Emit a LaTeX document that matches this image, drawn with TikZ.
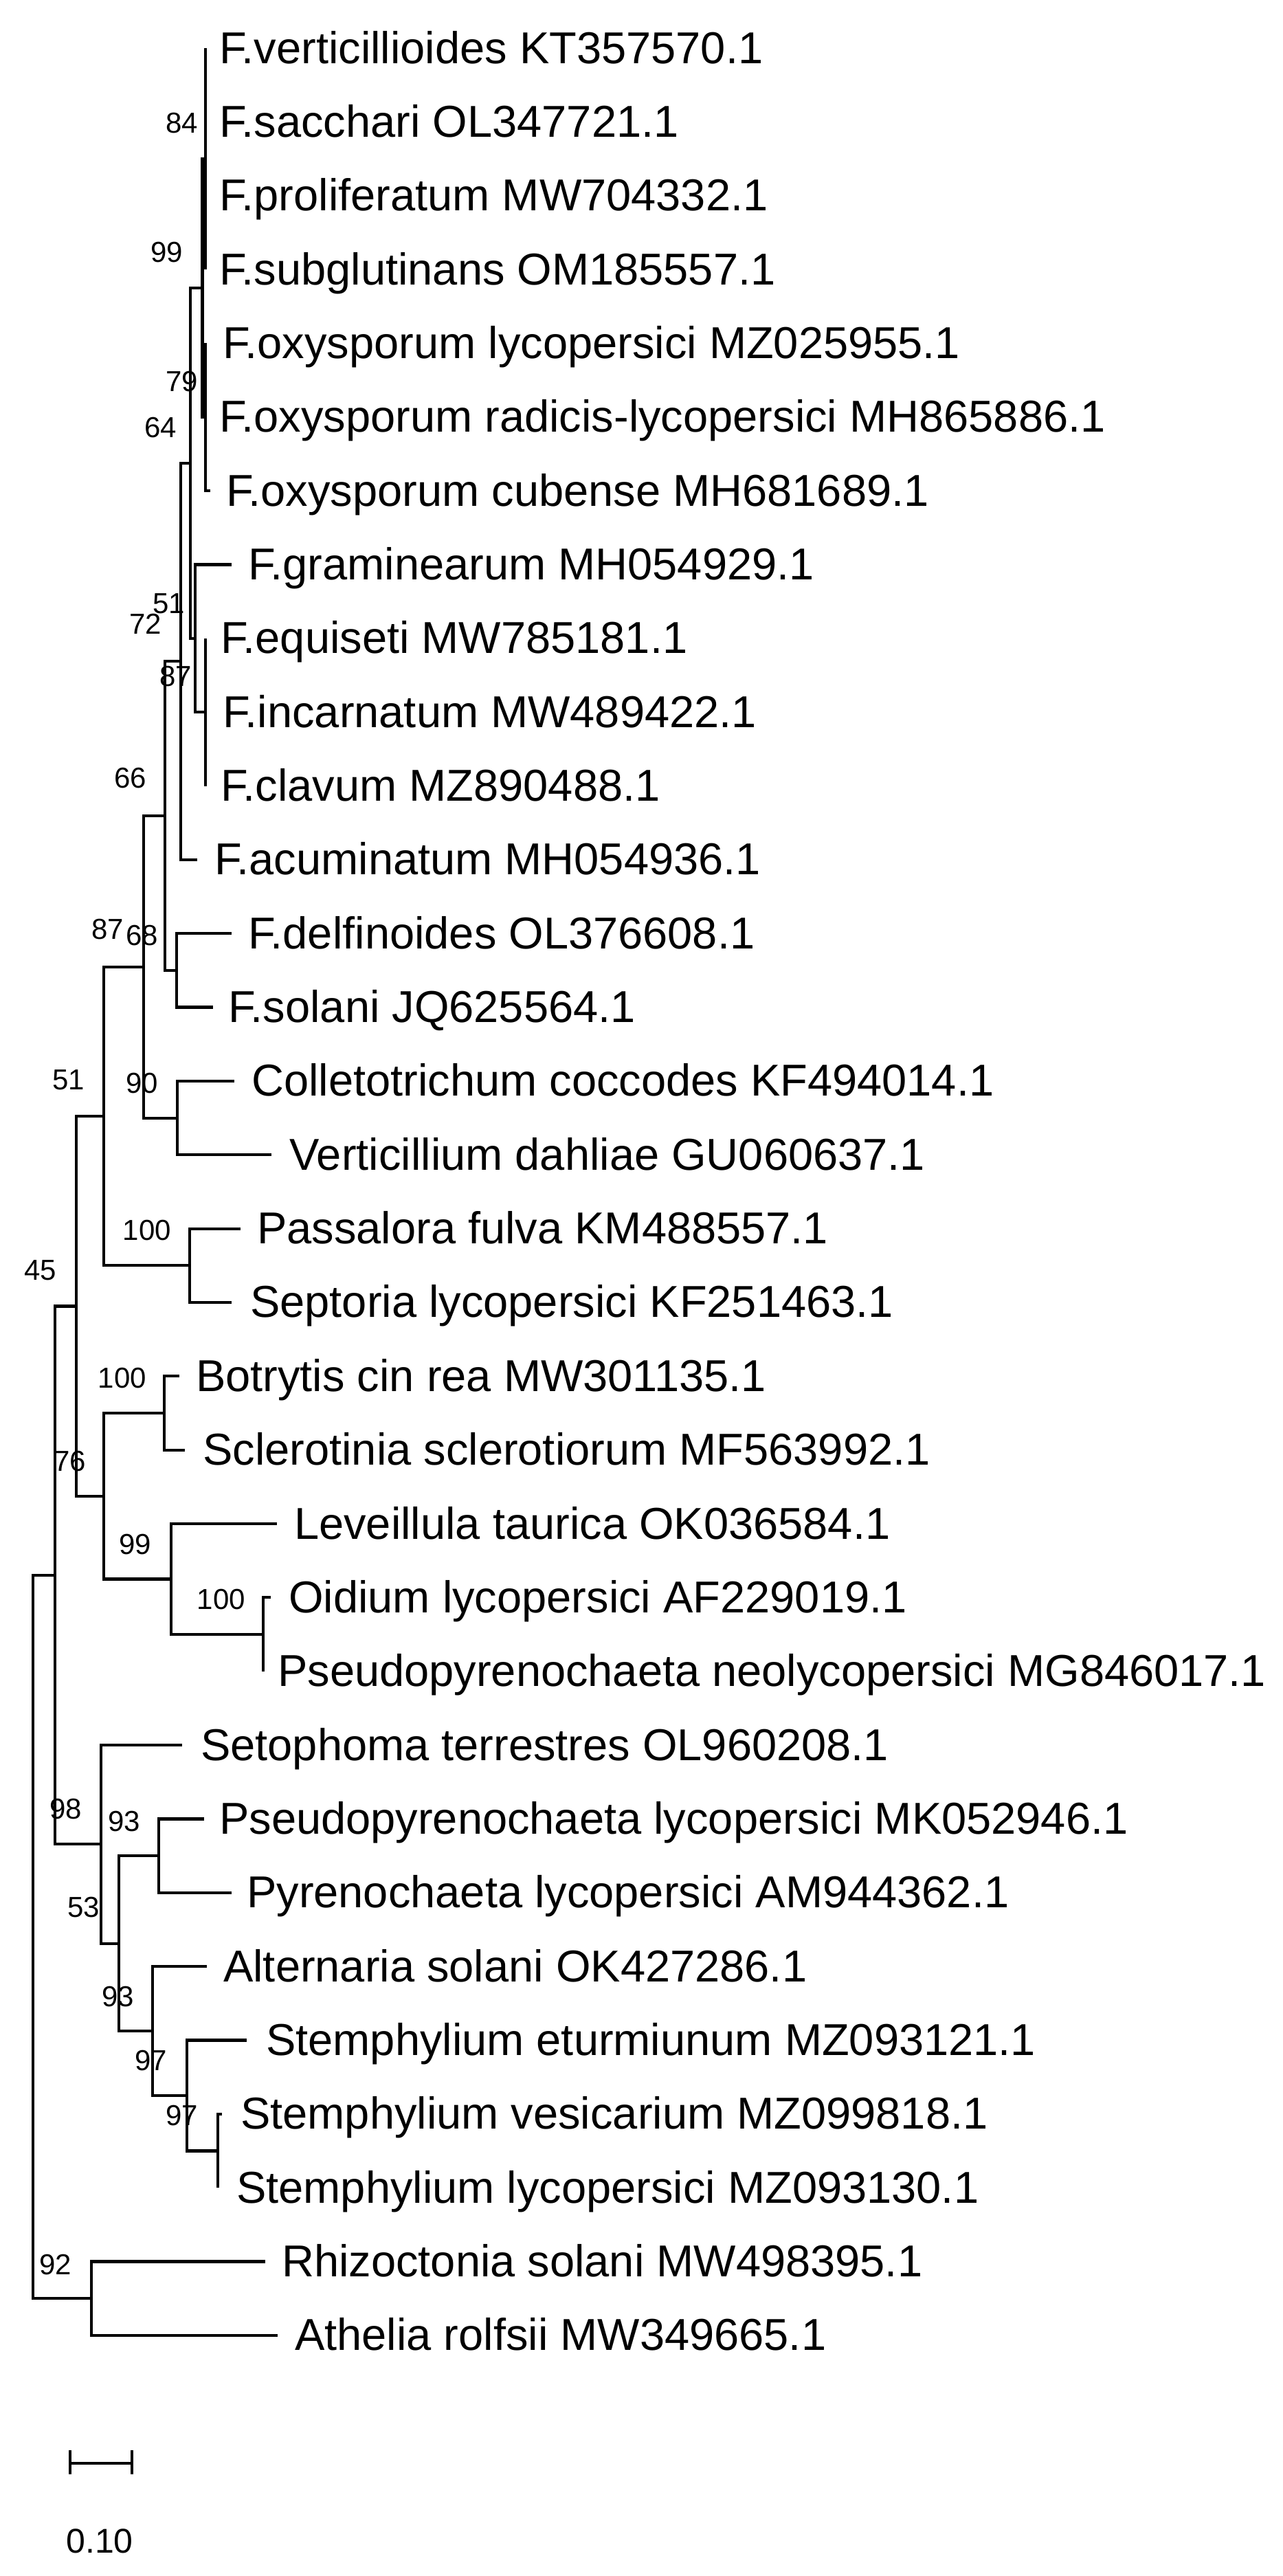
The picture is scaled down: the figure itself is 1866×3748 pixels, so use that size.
\documentclass[tikz,border=0pt]{standalone}
\usepackage{fontspec}
\setmainfont{Liberation Sans}
\usetikzlibrary{calc}
\tikzset{
  br/.style={line width=4.2pt, line join=miter, line cap=butt},
  leaf/.style={anchor=base west, inner sep=0pt, font=\fontsize{65}{78}\selectfont},
  bs/.style={anchor=center, inner sep=0pt, font=\fontsize{42}{50}\selectfont},
  sclab/.style={anchor=center, inner sep=0pt, font=\fontsize{50}{60}\selectfont}
}
\begin{document}
\begin{tikzpicture}[x=1pt,y=-1pt]
\useasboundingbox (0,0) rectangle (1866,3748);
\fill[white] (0,0) rectangle (1866,3748);

% leaf tips
\coordinate (L1) at (299,70.00);
\coordinate (L2) at (299,177.35);
\coordinate (L3) at (299,284.70);
\coordinate (L4) at (299,392.05);
\coordinate (L5) at (299,499.40);
\coordinate (L6) at (299,606.75);
\coordinate (L7) at (306,714.10);
\coordinate (L8) at (337,821.45);
\coordinate (L9) at (299,928.80);
\coordinate (L10) at (299,1036.15);
\coordinate (L11) at (299,1143.50);
\coordinate (L12) at (287,1250.85);
\coordinate (L13) at (337,1358.20);
\coordinate (L14) at (310,1465.55);
\coordinate (L15) at (341,1572.90);
\coordinate (L16) at (395,1680.25);
\coordinate (L17) at (350,1787.60);
\coordinate (L18) at (337,1894.95);
\coordinate (L19) at (261,2002.30);
\coordinate (L20) at (269,2109.65);
\coordinate (L21) at (403,2217.00);
\coordinate (L22) at (394,2324.35);
\coordinate (L23) at (383,2431.70);
\coordinate (L24) at (265,2539.05);
\coordinate (L25) at (297,2646.40);
\coordinate (L26) at (337,2753.75);
\coordinate (L27) at (301,2861.10);
\coordinate (L28) at (359,2968.45);
\coordinate (L29) at (323,3075.80);
\coordinate (L30) at (317,3183.15);
\coordinate (L31) at (386,3290.50);
\coordinate (L32) at (404,3397.85);

% internal nodes
\coordinate (root) at (48,2818.05);
\coordinate (FF) at (80,2291.9);
\coordinate (AA) at (111,1900.4);
\coordinate (Y) at (151,1624.1);
\coordinate (V) at (209,1406.85);
\coordinate (U) at (240,1187.1);
\coordinate (T) at (263,962.35);
\coordinate (S) at (277,673.85);
\coordinate (P) at (294.5,418.9);
\coordinate (Q) at (299,231.0);
\coordinate (R) at (299,606.75);
\coordinate (G) at (284,928.8);
\coordinate (H) at (299,1036.15);
\coordinate (X) at (257,1411.9);
\coordinate (W) at (258,1626.6);
\coordinate (Z) at (276,1841.3);
\coordinate (CC) at (151,2176.75);
\coordinate (BB) at (239,2056.0);
\coordinate (DD) at (249,2297.5);
\coordinate (EE) at (383,2378.0);
\coordinate (GG) at (147,2683.3);
\coordinate (HH) at (173,2827.6);
\coordinate (II) at (231,2700.1);
\coordinate (JJ) at (222,2955.0);
\coordinate (KK) at (272,3049.0);
\coordinate (LL) at (317,3129.5);
\coordinate (MM) at (133,3344.2);

% branches
\draw[br] (root) |- (FF);  \draw[br] (root) |- (MM);
\draw[br] (FF) |- (AA);    \draw[br] (FF) |- (GG);
\draw[br] (AA) |- (Y);     \draw[br] (AA) |- (CC);
\draw[br] (Y) |- (V);      \draw[br] (Y) |- (Z);
\draw[br] (V) |- (U);      \draw[br] (V) |- (W);
\draw[br] (U) |- (T);      \draw[br] (U) |- (X);
\draw[br] (T) |- (S);      \draw[br] (T) |- (L12);
\draw[br] (S) |- (P);      \draw[br] (S) |- (G);
\draw[br] (P) |- (Q);      \draw[br] (P) |- (R);
\draw[br] (Q) |- (L1);     \draw[br] (Q) |- (L2);
\draw[br] (Q) |- (L3);     \draw[br] (Q) |- (L4);
\draw[br] (R) |- (L5);     \draw[br] (R) |- (L6);     \draw[br] (R) |- (L7);
\draw[br] (G) |- (L8);     \draw[br] (G) |- (H);
\draw[br] (H) |- (L9);     \draw[br] (H) |- (L10);    \draw[br] (H) |- (L11);
\draw[br] (X) |- (L13);    \draw[br] (X) |- (L14);
\draw[br] (W) |- (L15);    \draw[br] (W) |- (L16);
\draw[br] (Z) |- (L17);    \draw[br] (Z) |- (L18);
\draw[br] (CC) |- (BB);    \draw[br] (CC) |- (DD);
\draw[br] (BB) |- (L19);   \draw[br] (BB) |- (L20);
\draw[br] (DD) |- (L21);   \draw[br] (DD) |- (EE);
\draw[br] (EE) |- (L22);   \draw[br] (EE) |- (L23);
\draw[br] (GG) |- (L24);   \draw[br] (GG) |- (HH);
\draw[br] (HH) |- (II);    \draw[br] (HH) |- (JJ);
\draw[br] (II) |- (L25);   \draw[br] (II) |- (L26);
\draw[br] (JJ) |- (L27);   \draw[br] (JJ) |- (KK);
\draw[br] (KK) |- (L28);   \draw[br] (KK) |- (LL);
\draw[br] (LL) |- (L29);   \draw[br] (LL) |- (L30);
\draw[br] (MM) |- (L31);   \draw[br] (MM) |- (L32);

% leaf labels
\node[leaf] (t1) at (319,92.0) {F.verticillioides KT357570.1};
\node[leaf] (t2) at (319,199.35) {F.sacchari OL347721.1};
\node[leaf] (t3) at (319,306.7) {F.proliferatum MW704332.1};
\node[leaf] (t4) at (319,414.05) {F.subglutinans OM185557.1};
\node[leaf] (t5) at (324,521.4) {F.oxysporum lycopersici MZ025955.1};
\node[leaf] (t6) at (319,628.75) {F.oxysporum radicis-lycopersici MH865886.1};
\node[leaf] (t7) at (329,736.1) {F.oxysporum cubense MH681689.1};
\node[leaf] (t8) at (361,843.45) {F.graminearum MH054929.1};
\node[leaf] (t9) at (321,950.8) {F.equiseti MW785181.1};
\node[leaf] (t10) at (324,1058.15) {F.incarnatum MW489422.1};
\node[leaf] (t11) at (321,1165.5) {F.clavum MZ890488.1};
\node[leaf] (t12) at (312,1272.85) {F.acuminatum MH054936.1};
\node[leaf] (t13) at (361,1380.2) {F.delfinoides OL376608.1};
\node[leaf] (t14) at (332,1487.55) {F.solani JQ625564.1};
\node[leaf] (t15) at (366,1594.9) {Colletotrichum coccodes KF494014.1};
\node[leaf] (t16) at (421,1702.25) {Verticillium dahliae GU060637.1};
\node[leaf] (t17) at (374,1809.6) {Passalora fulva KM488557.1};
\node[leaf] (t18) at (364,1916.95) {Septoria lycopersici KF251463.1};
\node[leaf] (t19) at (285,2024.3) {Botrytis cin rea MW301135.1};
\node[leaf] (t20) at (295,2131.65) {Sclerotinia sclerotiorum MF563992.1};
\node[leaf] (t21) at (428,2239.0) {Leveillula taurica OK036584.1};
\node[leaf] (t22) at (420,2346.35) {Oidium lycopersici AF229019.1};
\node[leaf] (t23) at (404,2453.7) {Pseudopyrenochaeta neolycopersici MG846017.1};
\node[leaf] (t24) at (292,2561.05) {Setophoma terrestres OL960208.1};
\node[leaf] (t25) at (319,2668.4) {Pseudopyrenochaeta lycopersici MK052946.1};
\node[leaf] (t26) at (359,2775.75) {Pyrenochaeta lycopersici AM944362.1};
\node[leaf] (t27) at (325,2883.1) {Alternaria solani OK427286.1};
\node[leaf] (t28) at (387,2990.45) {Stemphylium eturmiunum MZ093121.1};
\node[leaf] (t29) at (350,3097.8) {Stemphylium vesicarium MZ099818.1};
\node[leaf] (t30) at (344,3205.15) {Stemphylium lycopersici MZ093130.1};
\node[leaf] (t31) at (410,3312.5) {Rhizoctonia solani MW498395.1};
\node[leaf] (t32) at (429,3419.85) {Athelia rolfsii MW349665.1};

% bootstrap values
\node[bs] (bQ) at (265,179) {84};
\node[bs] (bP) at (243,367) {99};
\node[bs] (bR) at (265,555) {79};
\node[bs] (bS) at (234,622) {64};
\node[bs] (bG) at (246,878) {51};
\node[bs] (bT) at (212,908) {72};
\node[bs] (bH) at (256,984) {87};
\node[bs] (bU) at (190,1132) {66};
\node[bs] (bV) at (157,1352) {87};
\node[bs] (bX) at (207,1361) {68};
\node[bs] (bY) at (100,1571) {51};
\node[bs] (bW) at (207,1576) {90};
\node[bs] (bZ) at (214,1790) {100};
\node[bs] (bAA) at (59,1848) {45};
\node[bs] (bBB) at (178,2005) {100};
\node[bs] (bCC) at (102,2126) {76};
\node[bs] (bDD) at (197,2247) {99};
\node[bs] (bEE) at (322,2327) {100};
\node[bs] (bGG) at (96,2632) {98};
\node[bs] (bII) at (181,2650) {93};
\node[bs] (bHH) at (122,2775) {53};
\node[bs] (bJJ) at (172,2905) {93};
\node[bs] (bKK) at (220,2998) {97};
\node[bs] (bLL) at (265,3078) {97};
\node[bs] (bMM) at (81,3295) {92};

% scale bar
\coordinate (sbL) at (102,3584);
\coordinate (sbR) at (192,3584);
\draw[br] (sbL) -- (sbR);
\draw[br] ($(sbL)+(0,-19)$) -- ($(sbL)+(0,16)$);
\draw[br] ($(sbR)+(0,-19)$) -- ($(sbR)+(0,16)$);
\node[sclab] (sbtext) at (145,3697) {0.10};
\end{tikzpicture}
\end{document}
